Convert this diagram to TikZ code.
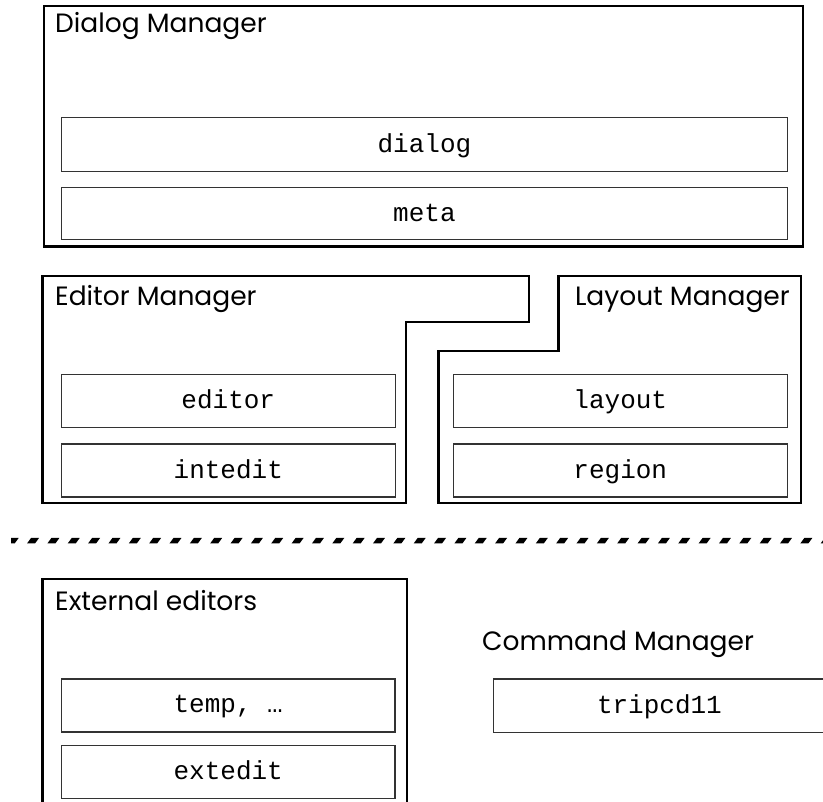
\documentclass[tikz,border=0pt]{standalone}
\usepackage{fontspec}
\setmainfont{Poppins}
\setmonofont{Liberation Mono}
\begin{document}
\begin{tikzpicture}[x=1pt,y=-1pt,
  frame/.style={draw=black, line width=2.6pt, line join=miter},
  unitbox/.style={draw=black!80, line width=1.2pt, inner sep=0pt, anchor=north west,
    font=\ttfamily\fontsize{26}{26}\selectfont, text height=15pt, text depth=0pt},
  title/.style={font=\fontsize{26.5}{26.5}\selectfont, inner sep=0pt}]
\useasboundingbox (0,0) rectangle (823,802);
\clip (0,0) rectangle (823,802);

% ---- Dialog Manager ----
\draw[frame] (44,6) rectangle (803,246.5);
\node[title, anchor=base west] (dmtitle) at (55,33) {Dialog Manager};
\node[unitbox, minimum width=725.7pt, minimum height=54pt] (dialog) at (61,117) {dialog};
\node[unitbox, minimum width=725.7pt, minimum height=52pt] (meta) at (61,187) {meta};

% ---- Editor Manager ----
\draw[frame] (42.7,276) -- (529,276) -- (529,322) -- (406,322) -- (406,503) -- (42.7,503) -- cycle;
\node[title, anchor=base west] (emtitle) at (55,306) {Editor Manager};
\node[unitbox, minimum width=334pt, minimum height=53pt] (editor) at (60.7,374) {editor};
\node[unitbox, minimum width=334pt, minimum height=53pt] (intedit) at (60.7,443.5) {intedit};

% ---- Layout Manager ----
\draw[frame] (558.3,276) -- (801,276) -- (801,503) -- (438.3,503) -- (438.3,351) -- (558.3,351) -- cycle;
\node[title, anchor=base east] (lmtitle) at (790,306) {Layout Manager};
\node[unitbox, minimum width=334pt, minimum height=53pt] (layout) at (452.7,374) {layout};
\node[unitbox, minimum width=334pt, minimum height=53pt] (region) at (452.7,443.5) {region};

% ---- separator between internal and external parts ----
\begin{scope}
  \clip (11,530) rectangle (823,560);
  \foreach \k in {-1,...,39}{
    \fill[black] ({27+20.35*\k},543.5) -- ++(8,0) -- ++(4,-5.5) -- ++(-8,0) -- cycle;
  }
\end{scope}

% ---- External editors ----
\draw[frame] (42.7,820) -- (42.7,579) -- (407,579) -- (407,820);
\node[title, anchor=base west] (eetitle) at (55,610) {External editors};
\node[unitbox, minimum width=333.3pt, minimum height=53pt] (temp) at (61,678.3) {temp, …};
\node[unitbox, minimum width=333.3pt, minimum height=53pt] (extedit) at (61,745) {extedit};

% ---- Command Manager ----
\node[title, anchor=base west] (cmtitle) at (482,650) {Command Manager};
\node[unitbox, minimum width=332.3pt, minimum height=53.4pt] (tripcd) at (492.7,678.3) {tripcd11};
\end{tikzpicture}
\end{document}
